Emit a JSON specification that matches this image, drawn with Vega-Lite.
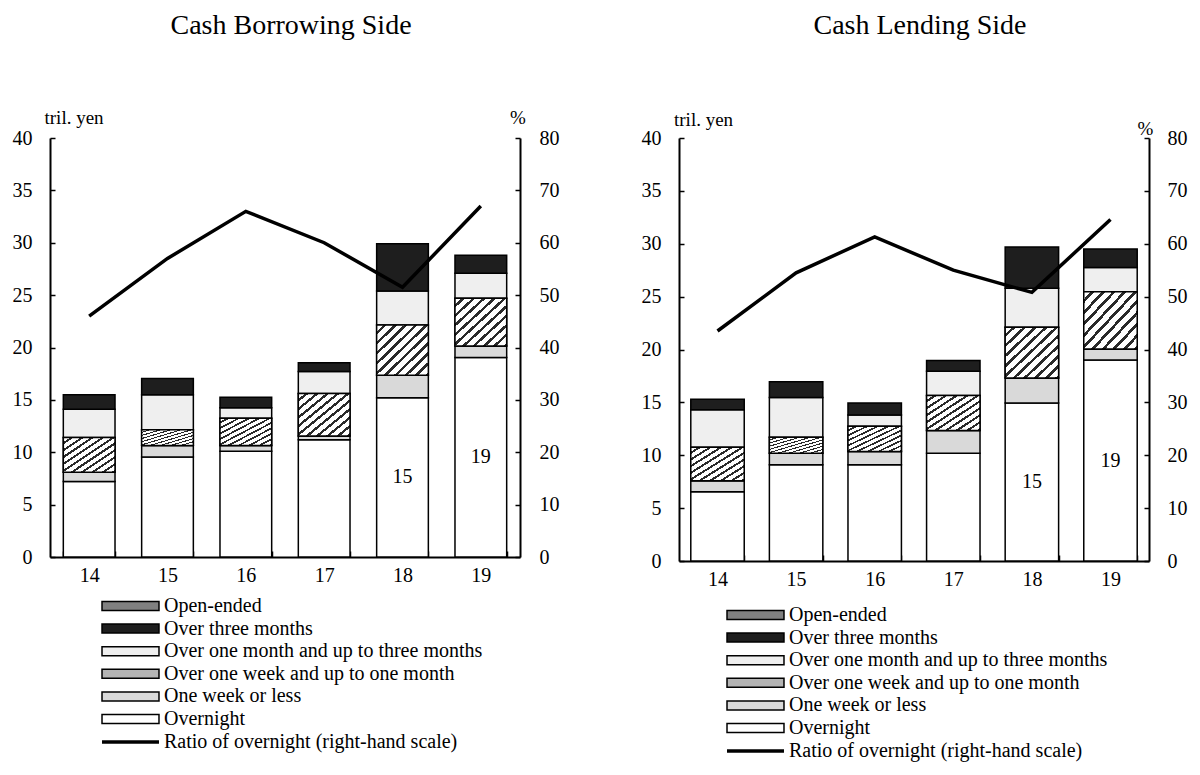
{
  "$schema": "https://vega.github.io/schema/vega-lite/v6.json",
  "padding": {"left": 12, "top": 11, "right": 5, "bottom": 5},
  "spacing": 82,
  "datasets": {
    "borrow": [
      {"year": "14", "cat": "Overnight", "ord": 1, "value": 7.2},
      {"year": "14", "cat": "One week or less", "ord": 2, "value": 0.9},
      {"year": "14", "cat": "Over one week and up to one month", "ord": 3, "value": 3.3},
      {"year": "14", "cat": "Over one month and up to three months", "ord": 4, "value": 2.7},
      {"year": "14", "cat": "Over three months", "ord": 5, "value": 1.4},
      {"year": "15", "cat": "Overnight", "ord": 1, "value": 9.55},
      {"year": "15", "cat": "One week or less", "ord": 2, "value": 1.1},
      {"year": "15", "cat": "Over one week and up to one month", "ord": 3, "value": 1.5},
      {"year": "15", "cat": "Over one month and up to three months", "ord": 4, "value": 3.35},
      {"year": "15", "cat": "Over three months", "ord": 5, "value": 1.55},
      {"year": "16", "cat": "Overnight", "ord": 1, "value": 10.1},
      {"year": "16", "cat": "One week or less", "ord": 2, "value": 0.55},
      {"year": "16", "cat": "Over one week and up to one month", "ord": 3, "value": 2.6},
      {"year": "16", "cat": "Over one month and up to three months", "ord": 4, "value": 1.0},
      {"year": "16", "cat": "Over three months", "ord": 5, "value": 1.0},
      {"year": "17", "cat": "Overnight", "ord": 1, "value": 11.2},
      {"year": "17", "cat": "One week or less", "ord": 2, "value": 0.35},
      {"year": "17", "cat": "Over one week and up to one month", "ord": 3, "value": 4.05},
      {"year": "17", "cat": "Over one month and up to three months", "ord": 4, "value": 2.1},
      {"year": "17", "cat": "Over three months", "ord": 5, "value": 0.85},
      {"year": "18", "cat": "Overnight", "ord": 1, "value": 15.2},
      {"year": "18", "cat": "One week or less", "ord": 2, "value": 2.15},
      {"year": "18", "cat": "Over one week and up to one month", "ord": 3, "value": 4.8},
      {"year": "18", "cat": "Over one month and up to three months", "ord": 4, "value": 3.25},
      {"year": "18", "cat": "Over three months", "ord": 5, "value": 4.5},
      {"year": "19", "cat": "Overnight", "ord": 1, "value": 19.05},
      {"year": "19", "cat": "One week or less", "ord": 2, "value": 1.1},
      {"year": "19", "cat": "Over one week and up to one month", "ord": 3, "value": 4.55},
      {"year": "19", "cat": "Over one month and up to three months", "ord": 4, "value": 2.4},
      {"year": "19", "cat": "Over three months", "ord": 5, "value": 1.7}
    ],
    "borrowRatio": [
      {"year": "14", "ratio": 46.0},
      {"year": "15", "ratio": 57.0},
      {"year": "16", "ratio": 66.0},
      {"year": "17", "ratio": 60.0},
      {"year": "18", "ratio": 51.5},
      {"year": "19", "ratio": 67.0}
    ],
    "lend": [
      {"year": "14", "cat": "Overnight", "ord": 1, "value": 6.55},
      {"year": "14", "cat": "One week or less", "ord": 2, "value": 1.05},
      {"year": "14", "cat": "Over one week and up to one month", "ord": 3, "value": 3.15},
      {"year": "14", "cat": "Over one month and up to three months", "ord": 4, "value": 3.55},
      {"year": "14", "cat": "Over three months", "ord": 5, "value": 1.0},
      {"year": "15", "cat": "Overnight", "ord": 1, "value": 9.1},
      {"year": "15", "cat": "One week or less", "ord": 2, "value": 1.1},
      {"year": "15", "cat": "Over one week and up to one month", "ord": 3, "value": 1.5},
      {"year": "15", "cat": "Over one month and up to three months", "ord": 4, "value": 3.75},
      {"year": "15", "cat": "Over three months", "ord": 5, "value": 1.5},
      {"year": "16", "cat": "Overnight", "ord": 1, "value": 9.1},
      {"year": "16", "cat": "One week or less", "ord": 2, "value": 1.25},
      {"year": "16", "cat": "Over one week and up to one month", "ord": 3, "value": 2.4},
      {"year": "16", "cat": "Over one month and up to three months", "ord": 4, "value": 1.05},
      {"year": "16", "cat": "Over three months", "ord": 5, "value": 1.15},
      {"year": "17", "cat": "Overnight", "ord": 1, "value": 10.2},
      {"year": "17", "cat": "One week or less", "ord": 2, "value": 2.15},
      {"year": "17", "cat": "Over one week and up to one month", "ord": 3, "value": 3.3},
      {"year": "17", "cat": "Over one month and up to three months", "ord": 4, "value": 2.3},
      {"year": "17", "cat": "Over three months", "ord": 5, "value": 1.0},
      {"year": "18", "cat": "Overnight", "ord": 1, "value": 14.95},
      {"year": "18", "cat": "One week or less", "ord": 2, "value": 2.35},
      {"year": "18", "cat": "Over one week and up to one month", "ord": 3, "value": 4.8},
      {"year": "18", "cat": "Over one month and up to three months", "ord": 4, "value": 3.7},
      {"year": "18", "cat": "Over three months", "ord": 5, "value": 3.9},
      {"year": "19", "cat": "Overnight", "ord": 1, "value": 19.0},
      {"year": "19", "cat": "One week or less", "ord": 2, "value": 1.05},
      {"year": "19", "cat": "Over one week and up to one month", "ord": 3, "value": 5.4},
      {"year": "19", "cat": "Over one month and up to three months", "ord": 4, "value": 2.3},
      {"year": "19", "cat": "Over three months", "ord": 5, "value": 1.75}
    ],
    "lendRatio": [
      {"year": "14", "ratio": 43.5},
      {"year": "15", "ratio": 54.5},
      {"year": "16", "ratio": 61.3},
      {"year": "17", "ratio": 55.0},
      {"year": "18", "ratio": 50.8},
      {"year": "19", "ratio": 64.6}
    ]
  },
  "hconcat": [
    {
      "width": 470,
      "height": 419,
      "title": {"text": "Cash Borrowing Side", "offset": 68.5, "dx": 6},
      "layer": [
        {
          "data": {"name": "borrow"},
          "transform": [
            {"stack": "value", "groupby": ["year"], "sort": [{"field": "ord", "order": "ascending"}], "as": ["v0", "v1"]}
          ],
          "mark": {"type": "bar", "stroke": "black", "strokeWidth": 1.5},
          "encoding": {
            "x": {"field": "year", "type": "nominal", "scale": {"paddingInner": 0.34, "paddingOuter": 0.17},
                  "axis": {"title": null, "labelAngle": 0, "tickBand": "extent", "tickSize": -6, "labelPadding": 14}},
            "y": {"field": "v0", "type": "quantitative", "scale": {"domain": [0, 40], "nice": false},
                  "axis": {"values": [0, 5, 10, 15, 20, 25, 30, 35, 40], "tickSize": -5, "labelPadding": 23,
                           "title": "tril. yen", "titleAngle": 0, "titleX": -6, "titleY": -21, "titleAlign": "left", "titleBaseline": "middle"}},
            "y2": {"field": "v1"},
            "fill": {"field": "cat", "type": "nominal",
                     "scale": {"domain": ["Open-ended", "Over three months", "Over one month and up to three months", "Over one week and up to one month", "One week or less", "Overnight"],
                               "range": ["#808080", "#1e1e1e", "#efefef", "#b4b4b4", "#d9d9d9", "#ffffff"]},
                     "legend": {"orient": "none", "legendX": 70.5, "legendY": 458}}
          }
        },
        {
          "data": {"name": "borrow"},
          "transform": [
            {"stack": "value", "groupby": ["year"], "sort": [{"field": "ord", "order": "ascending"}], "as": ["v0", "v1"]},
            {"filter": "datum.ord === 3"}
          ],
          "mark": {"type": "bar", "stroke": "black", "strokeWidth": 1.5,
                   "fill": {"gradient": "linear", "x1": 0, "y1": 0, "x2": 1, "y2": 1, "stops": [
                     {"offset": 0, "color": "#ffffff"}, {"offset": 0.065, "color": "#ffffff"}, {"offset": 0.065, "color": "#2a2a2a"}, {"offset": 0.1, "color": "#2a2a2a"},
                     {"offset": 0.1, "color": "#ffffff"}, {"offset": 0.165, "color": "#ffffff"}, {"offset": 0.165, "color": "#2a2a2a"}, {"offset": 0.2, "color": "#2a2a2a"},
                     {"offset": 0.2, "color": "#ffffff"}, {"offset": 0.265, "color": "#ffffff"}, {"offset": 0.265, "color": "#2a2a2a"}, {"offset": 0.3, "color": "#2a2a2a"},
                     {"offset": 0.3, "color": "#ffffff"}, {"offset": 0.365, "color": "#ffffff"}, {"offset": 0.365, "color": "#2a2a2a"}, {"offset": 0.4, "color": "#2a2a2a"},
                     {"offset": 0.4, "color": "#ffffff"}, {"offset": 0.465, "color": "#ffffff"}, {"offset": 0.465, "color": "#2a2a2a"}, {"offset": 0.5, "color": "#2a2a2a"},
                     {"offset": 0.5, "color": "#ffffff"}, {"offset": 0.565, "color": "#ffffff"}, {"offset": 0.565, "color": "#2a2a2a"}, {"offset": 0.6, "color": "#2a2a2a"},
                     {"offset": 0.6, "color": "#ffffff"}, {"offset": 0.665, "color": "#ffffff"}, {"offset": 0.665, "color": "#2a2a2a"}, {"offset": 0.7, "color": "#2a2a2a"},
                     {"offset": 0.7, "color": "#ffffff"}, {"offset": 0.765, "color": "#ffffff"}, {"offset": 0.765, "color": "#2a2a2a"}, {"offset": 0.8, "color": "#2a2a2a"},
                     {"offset": 0.8, "color": "#ffffff"}, {"offset": 0.865, "color": "#ffffff"}, {"offset": 0.865, "color": "#2a2a2a"}, {"offset": 0.9, "color": "#2a2a2a"},
                     {"offset": 0.9, "color": "#ffffff"}, {"offset": 0.965, "color": "#ffffff"}, {"offset": 0.965, "color": "#2a2a2a"}, {"offset": 1, "color": "#2a2a2a"}
                   ]}},
          "encoding": {
            "x": {"field": "year", "type": "nominal"},
            "y": {"field": "v0", "type": "quantitative", "scale": {"domain": [0, 40], "nice": false}, "axis": null},
            "y2": {"field": "v1"}
          }
        },
        {
          "data": {"name": "borrow"},
          "transform": [{"filter": "datum.ord === 1 && (datum.year === '18' || datum.year === '19')"}],
          "mark": {"type": "text", "fontSize": 20, "color": "black", "baseline": "middle"},
          "encoding": {
            "x": {"field": "year", "type": "nominal"},
            "y": {"field": "value", "type": "quantitative", "scale": {"domain": [0, 80], "nice": false}, "axis": null},
            "text": {"field": "value", "type": "quantitative", "format": ".0f"}
          }
        },
        {
          "data": {"name": "borrowRatio"},
          "mark": {"type": "line", "strokeWidth": 3.5},
          "encoding": {
            "x": {"field": "year", "type": "nominal"},
            "y": {"field": "ratio", "type": "quantitative", "scale": {"domain": [0, 80], "nice": false},
                  "axis": {"orient": "right", "values": [0, 10, 20, 30, 40, 50, 60, 70, 80], "tickSize": -5, "labelPadding": 24,
                           "title": "%", "titleAngle": 0, "titleX": -2.5, "titleY": -21, "titleAlign": "center", "titleBaseline": "middle"}},
            "stroke": {"datum": "Ratio of overnight (right-hand scale)", "type": "nominal", "scale": {"range": ["black"]},
                       "legend": {"orient": "none", "legendX": 70.5, "legendY": 594, "symbolType": "M-4.07,0H4.07", "symbolStrokeWidth": 3.5}}
          }
        }
      ],
      "resolve": {"scale": {"y": "independent"}}
    },
    {
      "width": 470,
      "height": 423,
      "title": {"text": "Cash Lending Side", "offset": 70.5, "dx": 6},
      "layer": [
        {
          "data": {"name": "lend"},
          "transform": [
            {"stack": "value", "groupby": ["year"], "sort": [{"field": "ord", "order": "ascending"}], "as": ["v0", "v1"]}
          ],
          "mark": {"type": "bar", "stroke": "black", "strokeWidth": 1.5},
          "encoding": {
            "x": {"field": "year", "type": "nominal", "scale": {"paddingInner": 0.32, "paddingOuter": 0.15},
                  "axis": {"title": null, "labelAngle": 0, "tickBand": "extent", "tickSize": -6, "labelPadding": 14}},
            "y": {"field": "v0", "type": "quantitative", "scale": {"domain": [0, 40], "nice": false},
                  "axis": {"values": [0, 5, 10, 15, 20, 25, 30, 35, 40], "tickSize": -5, "labelPadding": 23,
                           "title": "tril. yen", "titleAngle": 0, "titleX": -5.5, "titleY": -19, "titleAlign": "left", "titleBaseline": "middle"}},
            "y2": {"field": "v1"},
            "fill": {"field": "cat", "type": "nominal",
                     "scale": {"domain": ["Open-ended", "Over three months", "Over one month and up to three months", "Over one week and up to one month", "One week or less", "Overnight"],
                               "range": ["#808080", "#1e1e1e", "#efefef", "#b4b4b4", "#d9d9d9", "#ffffff"]},
                     "legend": {"orient": "none", "legendX": 66.5, "legendY": 467}}
          }
        },
        {
          "data": {"name": "lend"},
          "transform": [
            {"stack": "value", "groupby": ["year"], "sort": [{"field": "ord", "order": "ascending"}], "as": ["v0", "v1"]},
            {"filter": "datum.ord === 3"}
          ],
          "mark": {"type": "bar", "stroke": "black", "strokeWidth": 1.5,
                   "fill": {"gradient": "linear", "x1": 0, "y1": 0, "x2": 1, "y2": 1, "stops": [
                     {"offset": 0, "color": "#ffffff"}, {"offset": 0.065, "color": "#ffffff"}, {"offset": 0.065, "color": "#2a2a2a"}, {"offset": 0.1, "color": "#2a2a2a"},
                     {"offset": 0.1, "color": "#ffffff"}, {"offset": 0.165, "color": "#ffffff"}, {"offset": 0.165, "color": "#2a2a2a"}, {"offset": 0.2, "color": "#2a2a2a"},
                     {"offset": 0.2, "color": "#ffffff"}, {"offset": 0.265, "color": "#ffffff"}, {"offset": 0.265, "color": "#2a2a2a"}, {"offset": 0.3, "color": "#2a2a2a"},
                     {"offset": 0.3, "color": "#ffffff"}, {"offset": 0.365, "color": "#ffffff"}, {"offset": 0.365, "color": "#2a2a2a"}, {"offset": 0.4, "color": "#2a2a2a"},
                     {"offset": 0.4, "color": "#ffffff"}, {"offset": 0.465, "color": "#ffffff"}, {"offset": 0.465, "color": "#2a2a2a"}, {"offset": 0.5, "color": "#2a2a2a"},
                     {"offset": 0.5, "color": "#ffffff"}, {"offset": 0.565, "color": "#ffffff"}, {"offset": 0.565, "color": "#2a2a2a"}, {"offset": 0.6, "color": "#2a2a2a"},
                     {"offset": 0.6, "color": "#ffffff"}, {"offset": 0.665, "color": "#ffffff"}, {"offset": 0.665, "color": "#2a2a2a"}, {"offset": 0.7, "color": "#2a2a2a"},
                     {"offset": 0.7, "color": "#ffffff"}, {"offset": 0.765, "color": "#ffffff"}, {"offset": 0.765, "color": "#2a2a2a"}, {"offset": 0.8, "color": "#2a2a2a"},
                     {"offset": 0.8, "color": "#ffffff"}, {"offset": 0.865, "color": "#ffffff"}, {"offset": 0.865, "color": "#2a2a2a"}, {"offset": 0.9, "color": "#2a2a2a"},
                     {"offset": 0.9, "color": "#ffffff"}, {"offset": 0.965, "color": "#ffffff"}, {"offset": 0.965, "color": "#2a2a2a"}, {"offset": 1, "color": "#2a2a2a"}
                   ]}},
          "encoding": {
            "x": {"field": "year", "type": "nominal"},
            "y": {"field": "v0", "type": "quantitative", "scale": {"domain": [0, 40], "nice": false}, "axis": null},
            "y2": {"field": "v1"}
          }
        },
        {
          "data": {"name": "lend"},
          "transform": [{"filter": "datum.ord === 1 && (datum.year === '18' || datum.year === '19')"}],
          "mark": {"type": "text", "fontSize": 20, "color": "black", "baseline": "middle"},
          "encoding": {
            "x": {"field": "year", "type": "nominal"},
            "y": {"field": "value", "type": "quantitative", "scale": {"domain": [0, 80], "nice": false}, "axis": null},
            "text": {"field": "value", "type": "quantitative", "format": ".0f"}
          }
        },
        {
          "data": {"name": "lendRatio"},
          "mark": {"type": "line", "strokeWidth": 3.5},
          "encoding": {
            "x": {"field": "year", "type": "nominal"},
            "y": {"field": "ratio", "type": "quantitative", "scale": {"domain": [0, 80], "nice": false},
                  "axis": {"orient": "right", "values": [0, 10, 20, 30, 40, 50, 60, 70, 80], "tickSize": -5, "labelPadding": 23,
                           "title": "%", "titleAngle": 0, "titleX": -4, "titleY": -10, "titleAlign": "center", "titleBaseline": "middle"}},
            "stroke": {"datum": "Ratio of overnight (right-hand scale)", "type": "nominal", "scale": {"range": ["black"]},
                       "legend": {"orient": "none", "legendX": 66.5, "legendY": 603, "symbolType": "M-4.07,0H4.07", "symbolStrokeWidth": 3.5}}
          }
        }
      ],
      "resolve": {"scale": {"y": "independent"}}
    }
  ],
  "resolve": {
    "scale": {"x": "independent", "y": "independent", "fill": "independent", "stroke": "independent"},
    "legend": {"fill": "independent", "stroke": "independent"}
  },
  "config": {
    "font": "Liberation Serif",
    "view": {"stroke": null},
    "title": {"font": "Liberation Serif", "fontSize": 28, "fontWeight": "normal", "color": "black", "anchor": "middle"},
    "axis": {
      "grid": false,
      "domainColor": "black", "domainWidth": 2,
      "tickColor": "black", "tickWidth": 1.5,
      "labelColor": "black", "labelFont": "Liberation Serif", "labelFontSize": 20,
      "titleColor": "black", "titleFont": "Liberation Serif", "titleFontSize": 19, "titleFontWeight": "normal"
    },
    "legend": {
      "title": null,
      "labelFont": "Liberation Serif", "labelFontSize": 20, "labelColor": "black", "labelOffset": 23.5,
      "symbolType": "M-4.07,-0.64H4.07V0.64H-4.07Z", "symbolSize": 196,
      "symbolStrokeColor": "black", "symbolStrokeWidth": 1.5, "symbolOpacity": 1,
      "rowPadding": 2.6, "labelLimit": 500
    }
  }
}
